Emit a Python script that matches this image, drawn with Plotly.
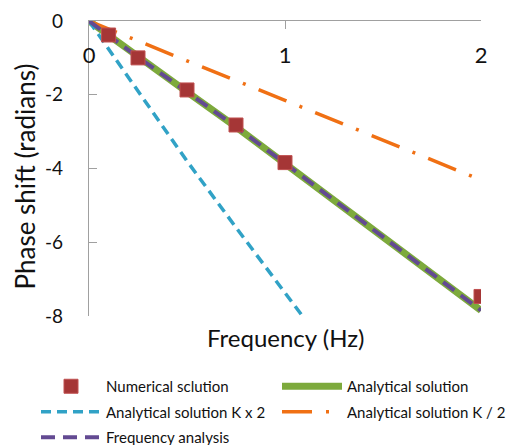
import plotly.graph_objects as go

# ---- data ----
freq_numerical = [0.1, 0.25, 0.5, 0.75, 1.0, 2.0]
phase_numerical = [-0.38, -1.0, -1.87, -2.82, -3.84, -7.47]

freq_analytical = [0, 0.25, 0.5, 0.75, 1.0, 1.5, 2.0]
phase_analytical = [0, -0.98, -1.92, -2.87, -3.86, -5.85, -7.85]

freq_kx2 = [0, 0.25, 0.5, 0.75, 1.0, 1.1]
phase_kx2 = [0, -1.92, -3.8, -5.6, -7.35, -8.08]

freq_kdiv2 = [0, 0.25, 0.5, 1.0, 1.5, 2.0]
phase_kdiv2 = [0, -0.55, -1.08, -2.15, -3.23, -4.31]

freq_fa = [0, 0.25, 0.5, 0.75, 1.0, 1.5, 2.0]
phase_fa = [0, -0.98, -1.92, -2.87, -3.86, -5.85, -7.85]

x_tickvals = [0, 1, 2]
x_ticktext = ["0", "1", "2"]
y_tickvals = [0, -2, -4, -6, -8]
y_ticktext = ["0", "-2", "-4", "-6", "-8"]

FONT = "Lato"
TXT = "#111111"
AX = "#A0A0A0"
W, H = 511, 445
ML, MR, MT, MB = 89, 30, 21, 129
PW = W - ML - MR

fig = go.Figure()
fig.add_trace(go.Scatter(
    x=freq_analytical, y=phase_analytical, mode="lines", name="Analytical solution",
    legend="legend2", legendgroup="a", legendrank=1,
    line=dict(color="#7DAA3C", width=7)))
fig.add_trace(go.Scatter(
    x=freq_kx2, y=phase_kx2, mode="lines", name="Analytical solution K x 2",
    legend="legend", legendgroup="b", legendrank=2,
    line=dict(color="#31A2C6", width=3.5, dash="10px,6px")))
fig.add_trace(go.Scatter(
    x=freq_kdiv2, y=phase_kdiv2, mode="lines", name="Analytical solution K / 2",
    legend="legend2", legendgroup="c", legendrank=2,
    line=dict(color="#F07014", width=3.5, dash="30px,14px,3px,14px")))
fig.add_trace(go.Scatter(
    x=freq_fa, y=phase_fa, mode="lines", name="Frequency analysis",
    legend="legend", legendgroup="d", legendrank=3,
    line=dict(color="#634A92", width=4, dash="14px,8px")))
fig.add_trace(go.Scatter(
    x=freq_numerical, y=phase_numerical, mode="markers", name="Numerical sclution",
    legend="legend", legendgroup="e", legendrank=1,
    marker=dict(symbol="square", size=14, color="#A53636",
                line=dict(color="#C05050", width=1))))
# invisible copy on the label axis so that axis is drawn
fig.add_trace(go.Scatter(
    x=freq_numerical, y=phase_numerical, xaxis="x2", mode="markers",
    showlegend=False, hoverinfo="skip", marker=dict(opacity=0)))

leg_common = dict(orientation="v", xref="paper", yref="container",
                  xanchor="left", yanchor="top", itemwidth=60,
                  traceorder="grouped", tracegroupgap=3,
                  bgcolor="rgba(0,0,0,0)",
                  font=dict(family=FONT, size=15, color=TXT))

fig.update_layout(
    width=W, height=H,
    margin=dict(l=ML, r=MR, t=MT, b=MB),
    paper_bgcolor="white", plot_bgcolor="white",
    font=dict(family=FONT, color=TXT),
    showlegend=True,
    legend=dict(x=(36 - ML) / PW, y=1 - 370 / H, **leg_common),
    legend2=dict(x=(278 - ML) / PW, y=1 - 370 / H, **leg_common),
    xaxis=dict(range=[0, 2], side="top", tickvals=x_tickvals, ticktext=x_ticktext,
               showticklabels=False, automargin=False,
               ticks="inside", ticklen=8, tickcolor=AX,
               showline=True, linecolor=AX, linewidth=1.2,
               showgrid=False, zeroline=False),
    xaxis2=dict(range=[0, 2], overlaying="x", anchor="free", position=0.937,
                side="bottom", tickvals=x_tickvals, ticktext=x_ticktext,
                ticks="", showline=False, showgrid=False, zeroline=False,
                automargin=False,
                tickfont=dict(family=FONT, size=22, color=TXT)),
    yaxis=dict(range=[-8, 0], tickvals=y_tickvals, ticktext=y_ticktext,
               ticks="inside", ticklen=8, tickcolor=AX, automargin=False,
               ticklabelstandoff=21,
               showline=True, linecolor=AX, linewidth=1.2,
               showgrid=False, zeroline=False,
               tickfont=dict(family=FONT, size=19, color=TXT)),
    annotations=[
        dict(text="Frequency (Hz)", xref="paper", yref="paper",
             x=0.5, y=0, xanchor="center", yanchor="middle", yshift=-21,
             showarrow=False, font=dict(family=FONT, size=24, color=TXT)),
        dict(text="Phase shift (radians)", xref="paper", yref="paper",
             x=0, y=0.5, xanchor="center", yanchor="middle", textangle=-90,
             xshift=-65, yshift=-8,
             showarrow=False, font=dict(family=FONT, size=26, color=TXT)),
    ],
)

fig.write_html("out.html", config={"displayModeBar": False},
               post_script="document.body.style.margin='0';")
